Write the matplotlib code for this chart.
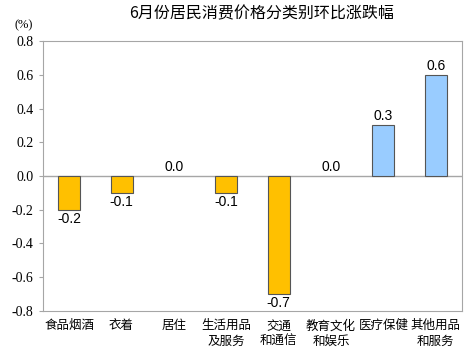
import matplotlib.pyplot as plt
from matplotlib.font_manager import FontProperties
import numpy as np

plt.rcParams['font.family'] = ['Noto Sans CJK SC', 'DejaVu Sans']
Times = FontProperties(family='Liberation Serif', size=10)

# 数据
categories = ['食品烟酒', '衣着', '居住', '生活用品\n及服务', '交通\n和通信',
              '教育文化\n和娱乐', '医疗保健', '其他用品\n和服务']
values = [-0.2, -0.1, 0.0, -0.1, -0.7, 0.0, 0.3, 0.6]
yticks = [-0.8, -0.6, -0.4, -0.2, 0.0, 0.2, 0.4, 0.6, 0.8]

fig = plt.figure(figsize=(4.7, 3.52), dpi=100)
ax = fig.add_axes([0.0915, 0.1165, 0.8915, 0.767])

x = np.arange(len(categories))
colors = ['#FFC000' if v < 0 else '#99CCFF' for v in values]
edges = ['none' if v == 0 else '#555555' for v in values]
ax.bar(x, values, width=0.42, color=colors, edgecolor=edges, linewidth=0.8, zorder=3)
ax.axhline(0, color='#A6A6A6', linewidth=1, zorder=2)

for xi, v in zip(x, values):
    if v < 0:
        ax.text(xi, v - 0.012, f'{v:.1f}', ha='center', va='top', fontsize=10,
                family='Liberation Sans')
    else:
        ax.text(xi, v + 0.012, f'{v:.1f}', ha='center', va='bottom', fontsize=10,
                family='Liberation Sans')

ax.set_xlim(-0.5, len(categories) - 0.5)
ax.set_ylim(-0.8, 0.8)
ax.set_yticks(yticks)
ax.set_yticklabels([f'{t:.1f}' for t in yticks])
for label in ax.get_yticklabels():
    label.set_fontproperties(Times)
ax.set_xticks(x)
ax.set_xticklabels(categories, fontsize=9, linespacing=1.25)
ax.tick_params(axis='x', length=0, pad=6)
ax.tick_params(axis='y', length=3, color='#A6A6A6', pad=4)
for s in ax.spines.values():
    s.set_color('#A6A6A6')

fig.text(0.556, 0.962, '6月份居民消费价格分类别环比涨跌幅', ha='center', va='center', fontsize=11.5)
fig.text(0.05, 0.929, '(%)', ha='center', va='center',
         fontproperties=FontProperties(family='Liberation Serif', size=9))

fig.savefig('out.png', dpi=100)
